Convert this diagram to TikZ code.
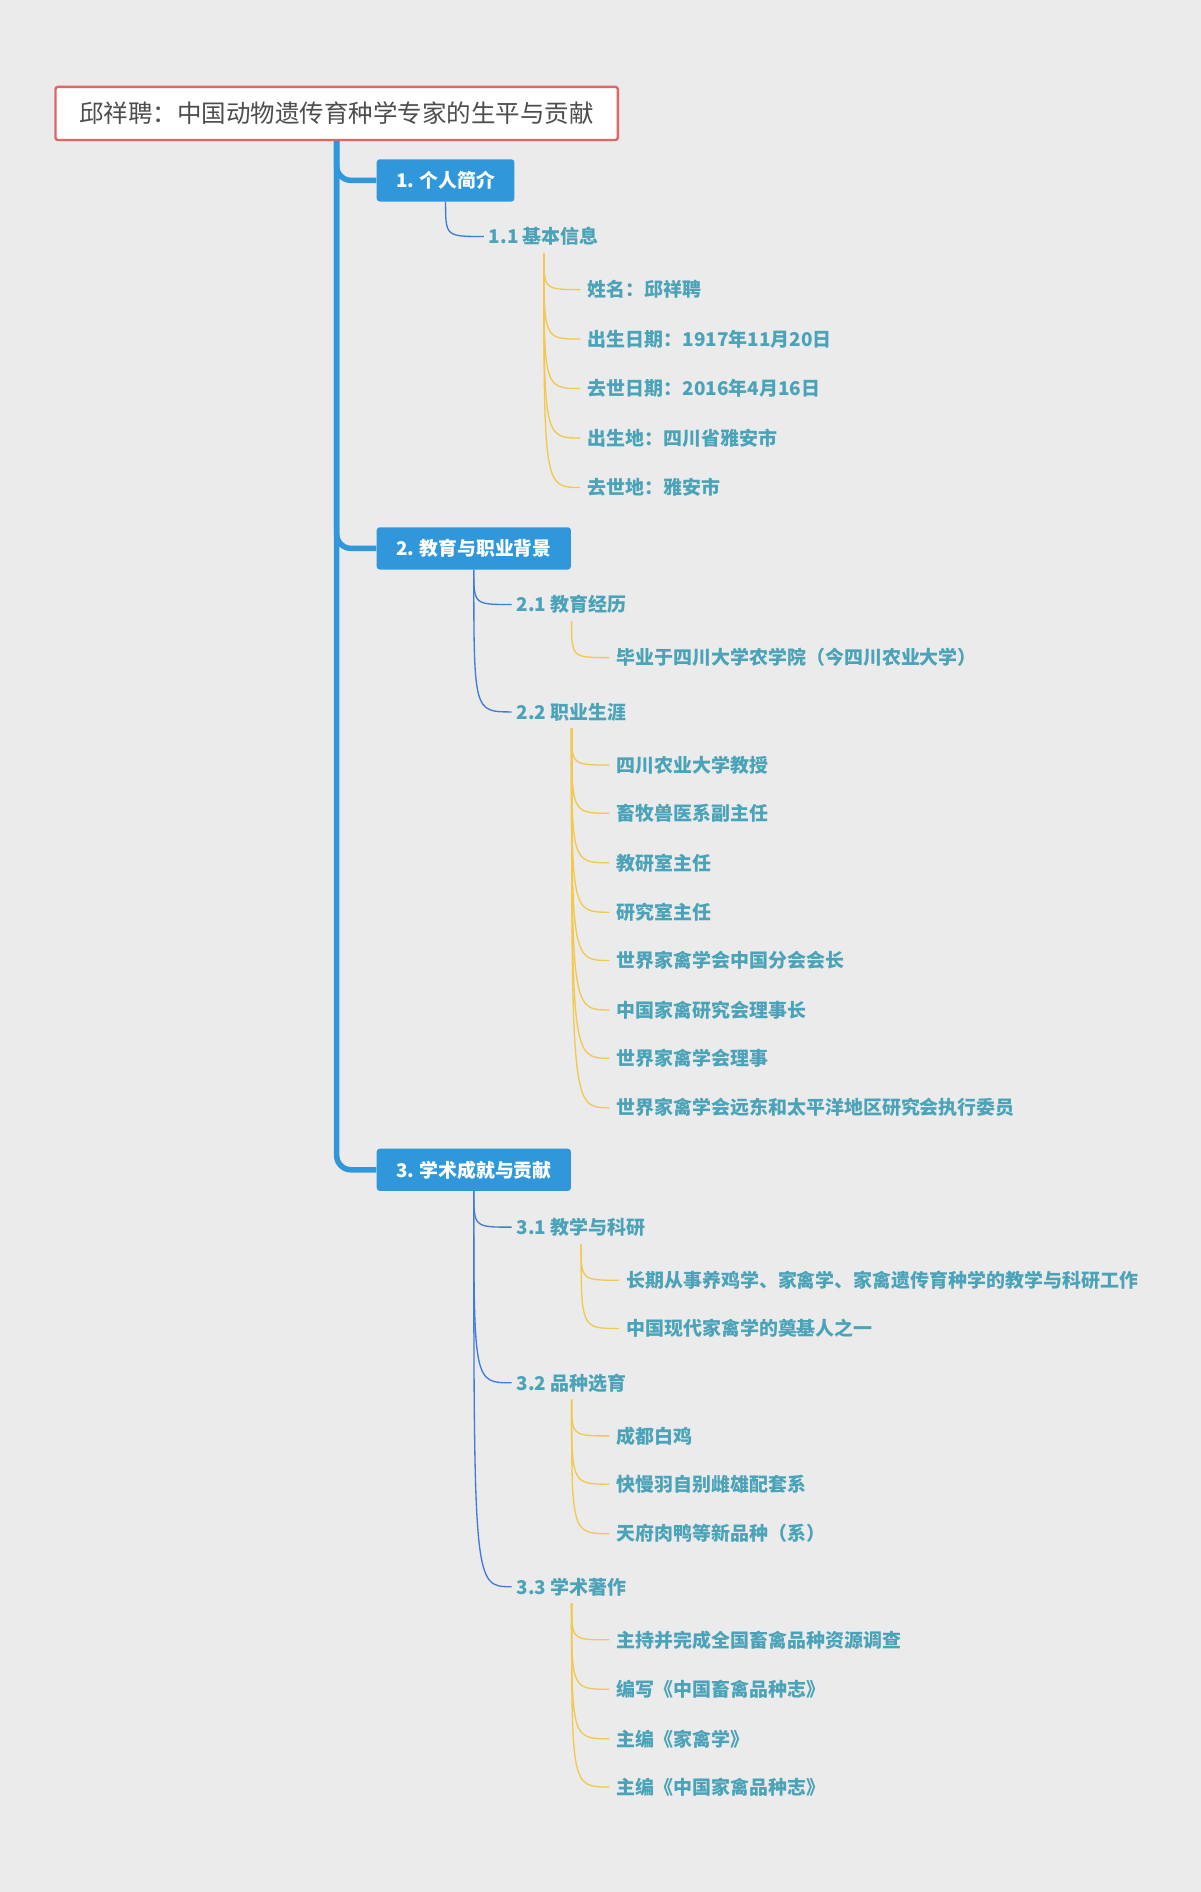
\documentclass[tikz,border=0pt]{standalone}
\usepackage{fontspec}
\setmainfont{Noto Sans CJK SC}
\definecolor{bgc}{HTML}{EBEBEB}
\definecolor{titleborder}{HTML}{E06666}
\definecolor{titletext}{HTML}{4D4D4D}
\definecolor{mainblue}{HTML}{3098DA}
\definecolor{thinblue}{HTML}{3F7BDA}
\definecolor{yel}{HTML}{F2C94E}
\definecolor{teal}{HTML}{4AA3B8}
\tikzset{
  titlebox/.style={draw=titleborder, line width=2pt, fill=white, rounded corners=2pt,
    minimum width=466pt, minimum height=44pt, inner sep=0pt, text=titletext,
    font=\fontsize{20.3}{24}\selectfont},
  mainbox/.style={fill=mainblue, rounded corners=2.5pt, text=white, inner xsep=16pt,
    inner ysep=0pt, minimum height=35pt, anchor=west,
    font=\fontsize{15.6}{18}\selectfont\bfseries},
  sublabel/.style={text=teal, inner xsep=4pt, inner ysep=6pt, anchor=west,
    font=\fontsize{15.7}{18}\selectfont\bfseries},
  leaf/.style={text=teal, inner xsep=6pt, inner ysep=3pt, anchor=west,
    font=\fontsize{15.7}{18}\selectfont\bfseries},
  trunk/.style={draw=mainblue, line width=4.6pt, rounded corners=12pt},
  bcon/.style={draw=thinblue, line width=1.1pt},
  ycon/.style={draw=yel, line width=1.1pt},
}
\newcommand{\curveto}[3]{\draw[#1] (#2) .. controls (#2 |- #3.west) .. (#3.west);}
\begin{document}
\begin{tikzpicture}[x=1pt,y=-1pt]
\fill[bgc] (0,0) rectangle (995,1568);
\useasboundingbox (0,0) rectangle (995,1568);

\node[titlebox] (T) at (279,94) {邱祥聘：中国动物遗传育种学专家的生平与贡献};

\node[mainbox] (A) at (312,149.5) {1. 个人简介};
\node[mainbox] (B) at (312,454.5) {2. 教育与职业背景};
\node[mainbox] (C) at (312,969.5) {3. 学术成就与贡献};

\draw[trunk] (T.south) |- (A.west);
\draw[trunk] (T.south) |- (B.west);
\draw[trunk] (T.south) |- (C.west);

% level 2
\node[sublabel] (A1) at (401,196) {1.1 基本信息};
\node[sublabel] (B1) at (424,501) {2.1 教育经历};
\node[sublabel] (B2) at (424,590) {2.2 职业生涯};
\node[sublabel] (C1) at (424,1017) {3.1 教学与科研};
\node[sublabel] (C2) at (424,1146) {3.2 品种选育};
\node[sublabel] (C3) at (424,1315) {3.3 学术著作};

\curveto{bcon}{A.south}{A1}
\curveto{bcon}{B.south}{B1}
\curveto{bcon}{B.south}{B2}
\curveto{bcon}{C.south}{C1}
\curveto{bcon}{C.south}{C2}
\curveto{bcon}{C.south}{C3}

% level 3
\node[leaf] (A11) at (481,240) {姓名：邱祥聘};
\node[leaf] (A12) at (481,281) {出生日期：1917年11月20日};
\node[leaf] (A13) at (481,322) {去世日期：2016年4月16日};
\node[leaf] (A14) at (481,363) {出生地：四川省雅安市};
\node[leaf] (A15) at (481,404) {去世地：雅安市};
\foreach \n in {A11,A12,A13,A14,A15}{\curveto{ycon}{A1.south}{\n}}

\node[leaf] (B11) at (505,545) {毕业于四川大学农学院（今四川农业大学）};
\curveto{ycon}{B1.south}{B11}

\node[leaf] (B21) at (505,634) {四川农业大学教授};
\node[leaf] (B22) at (505,674) {畜牧兽医系副主任};
\node[leaf] (B23) at (505,715) {教研室主任};
\node[leaf] (B24) at (505,756) {研究室主任};
\node[leaf] (B25) at (505,796) {世界家禽学会中国分会会长};
\node[leaf] (B26) at (505,837) {中国家禽研究会理事长};
\node[leaf] (B27) at (505,877) {世界家禽学会理事};
\node[leaf] (B28) at (505,918) {世界家禽学会远东和太平洋地区研究会执行委员};
\foreach \n in {B21,B22,B23,B24,B25,B26,B27,B28}{\curveto{ycon}{B2.south}{\n}}

\node[leaf] (C11) at (513,1061) {长期从事养鸡学、家禽学、家禽遗传育种学的教学与科研工作};
\node[leaf] (C12) at (513,1101) {中国现代家禽学的奠基人之一};
\foreach \n in {C11,C12}{\curveto{ycon}{C1.south}{\n}}

\node[leaf] (C21) at (505,1190) {成都白鸡};
\node[leaf] (C22) at (505,1230) {快慢羽自别雌雄配套系};
\node[leaf] (C23) at (505,1271) {天府肉鸭等新品种（系）};
\foreach \n in {C21,C22,C23}{\curveto{ycon}{C2.south}{\n}}

\node[leaf] (C31) at (505,1359) {主持并完成全国畜禽品种资源调查};
\node[leaf] (C32) at (505,1400) {编写《中国畜禽品种志》};
\node[leaf] (C33) at (505,1441) {主编《家禽学》};
\node[leaf] (C34) at (505,1481) {主编《中国家禽品种志》};
\foreach \n in {C31,C32,C33,C34}{\curveto{ycon}{C3.south}{\n}}
\end{tikzpicture}
\end{document}
